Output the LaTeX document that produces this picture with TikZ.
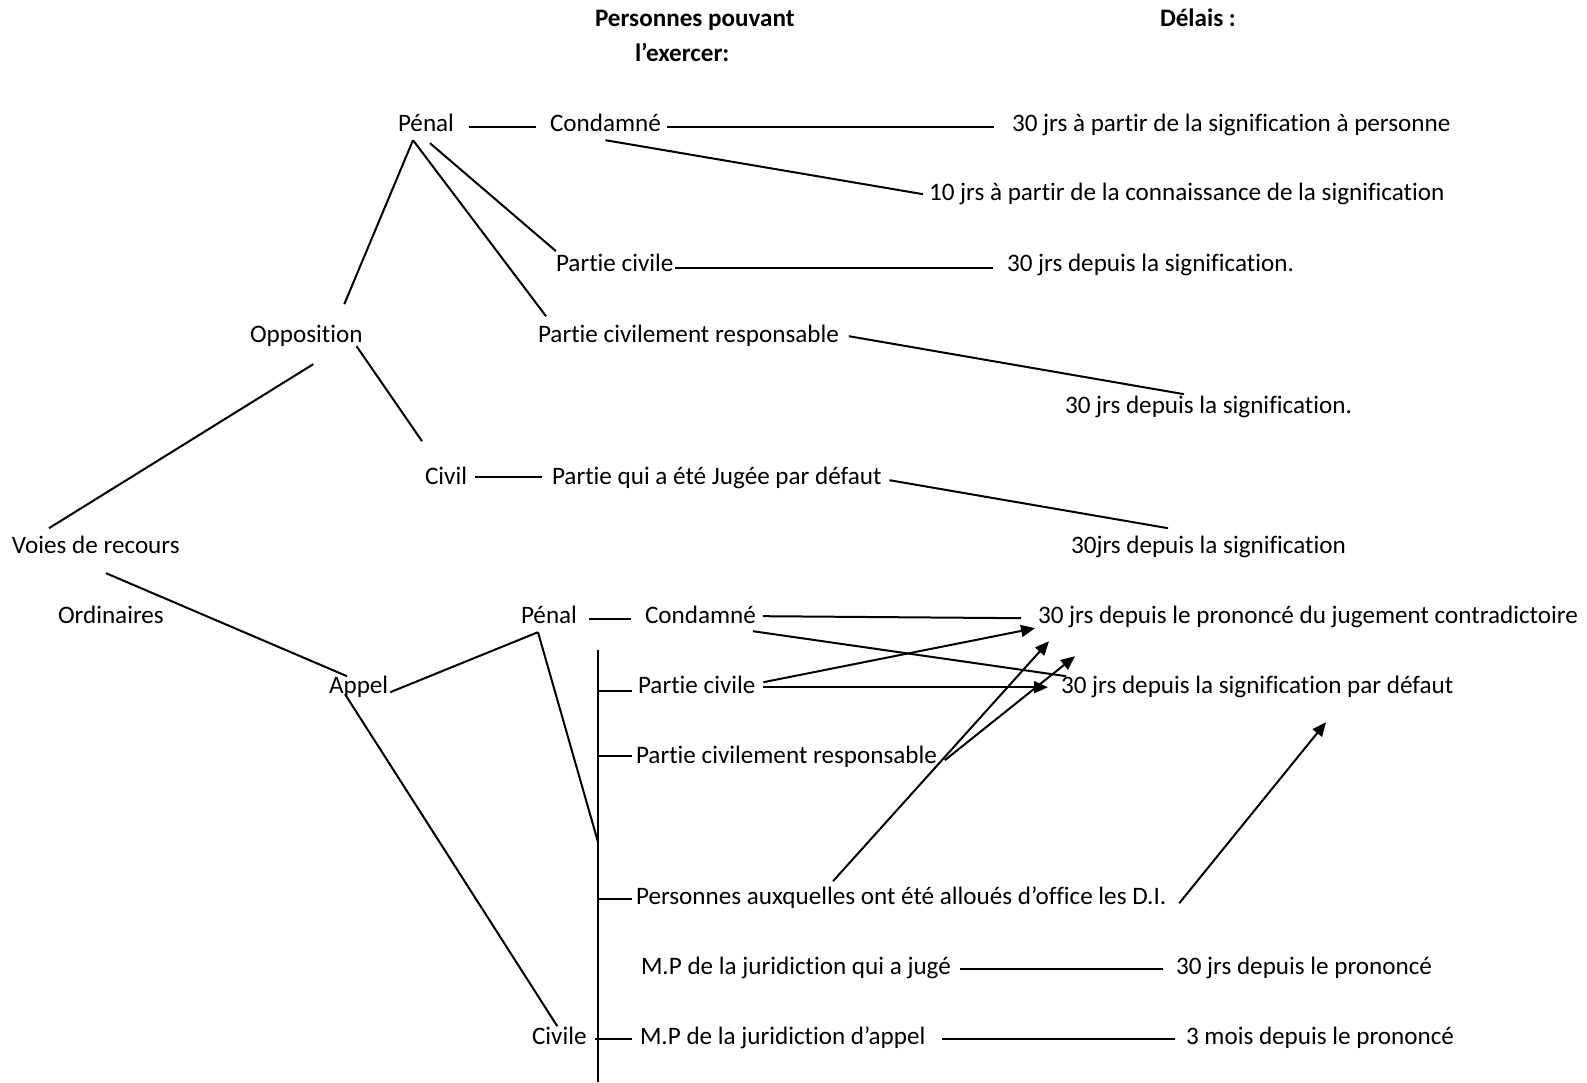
\documentclass[tikz,border=0pt]{standalone}
\usepackage{fontspec}
\setmainfont{Carlito}[Ligatures=NoCommon]
\usetikzlibrary{calc,arrows.meta}
\begin{document}
\begin{tikzpicture}[x=0.75pt,y=-0.75pt,
  every node/.style={inner sep=0pt, outer sep=0pt, anchor=mid west,
    font=\fontsize{18.85}{22}\selectfont},
  head/.style={font=\fontsize{18.85}{22}\selectfont\bfseries},
  link/.style={line width=1.5pt},
  arr/.style={line width=1.5pt, -{Triangle[length=10.5pt, width=9pt]}}]

% page
\fill[white] (0,0) rectangle (1587,1082);
\useasboundingbox (0,0) rectangle (1587,1082);

% column headings
\node[head] (t1) at (595,23) {Personnes pouvant};
\node[head] (t2) at (635,58) {l’exercer:};
\node[head] (t3) at (1160,23) {Délais :};

% opposition
\node (pen1)  at (398,128)  {Pénal};
\node (cond1) at (550,128)  {Condamné};
\node (d1)    at (1012,128) {30 jrs à partir de la signification à personne};
\node (d2)    at (929,197)  {10 jrs à partir de la connaissance de la signification};
\node (pc1)   at (556,268)  {Partie civile};
\node (d3)    at (1007,268) {30 jrs depuis la signification.};
\node (opp)   at (250,339)  {Opposition};
\node (pcr1)  at (538,339)  {Partie civilement responsable};
\node (d4)    at (1065,410) {30 jrs depuis la signification.};
\node (civ)   at (425,481)  {Civil};
\node (pj)    at (552,481)  {Partie qui a été Jugée par défaut};
\node (d5)    at (1071,550) {30jrs depuis la signification};
\node (voies) at (12,550)   {Voies de recours};
\node (ord)   at (58,620)   {Ordinaires};

% appel
\node (pen2)   at (521,620)  {Pénal};
\node (cond2)  at (645,620)  {Condamné};
\node (d6)     at (1038,620) {30 jrs depuis le prononcé du jugement contradictoire};
\node (appel)  at (329,690)  {Appel};
\node (pc2)    at (638,690)  {Partie civile};
\node (d7)     at (1061,690) {30 jrs depuis la signification par défaut};
\node (pcr2)   at (636,760)  {Partie civilement responsable};
\node (pers)   at (636,901)  {Personnes auxquelles ont été alloués d’office les D.I.};
\node (mp1)    at (641,971)  {M.P de la juridiction qui a jugé};
\node (d8)     at (1176,971) {30 jrs depuis le prononcé};
\node (civile) at (532,1041) {Civile};
\node (mp2)    at (640,1041) {M.P de la juridiction d’appel};
\node (d9)     at (1186,1041){3 mois depuis le prononcé};

% opposition connectors
\draw[link] ($(pen1.base east)+(15,-4)$) -- ($(cond1.base west)+(-14,-4)$);
\draw[link] ($(cond1.base east)+(6,-4)$) -- ($(d1.base west)+(-18,-4)$);
\draw[link] ($(cond1.base)+(0,9)$) -- ($(d2.base west)+(-6,-6)$);
\draw[link] ($(pen1.base)+(-13,9)$) -- ($(opp.base)+(38,-38)$);
\draw[link] ($(pen1.base)+(-13,9)$) -- ($(pcr1.base west)+(8,-26)$);
\draw[link] ($(pen1.base)+(4,12)$) -- ($(pc1.base west)+(0,-20)$);
\draw[link] ($(pc1.base east)+(2,-3)$) -- ($(d3.base west)+(-14,-3)$);
\draw[link] ($(pcr1.base east)+(10,-6)$) -- ($(d4.base west)+(119,-19)$);
\draw[link] ($(opp.base east)+(-6,4)$) -- ($(civ.base west)+(-3,-43)$);
\draw[link] ($(opp.base)+(7,22)$) -- ($(voies.base west)+(37,-25)$);
\draw[link] ($(civ.base east)+(8,-7)$) -- ($(pj.base west)+(-10,-7)$);
\draw[link] ($(pj.base east)+(8,-4)$) -- ($(d5.base west)+(97,-25)$);

% appel connectors
\draw[link] ($(voies.base west)+(94,20)$) -- ($(appel.base west)+(18,-17)$);
\draw[link] ($(appel.base east)+(2,-1)$) -- ($(pen2.base)+(-11,9)$);
\draw[link] ($(appel.base west)+(16,1)$) -- ($(civile.base)+(-2,-18)$);
\draw[link] ($(pen2.base east)+(12,-4)$) -- ($(cond2.base west)+(-14,-4)$);
\draw[link] ($(cond2.base east)+(7,-7)$) -- ($(d6.base west)+(-17,-5)$);
\draw[link] ($(cond2.base east)+(-3,8)$) -- ($(d7.base west)+(5,-17)$);
\draw[arr] ($(pc2.base east)+(8,-11)$) -- ($(d6.base west)+(-3,5)$);
\draw[arr] ($(pc2.base east)+(8,-6)$) -- ($(d7.base west)+(-13,-6)$);
\draw[arr] ($(pcr2.base east)+(8,-3)$) -- ($(d7.base west)+(14,-37)$);
\draw[arr] ($(pers.base west)+(197,-23)$) -- ($(d6.base west)+(11,18)$);
\draw[arr] ($(pers.base east)+(13,-1)$) -- ($(d7.base west)+(265,29)$);
\draw[link] ($(mp1.base east)+(9,-5)$) -- ($(d8.base west)+(-13,-5)$);
\draw[link] ($(mp2.base east)+(17,-5)$) -- ($(d9.base west)+(-11,-5)$);

% bracket of the persons entitled to appeal
\coordinate (vtop) at (598,650);
\coordinate (vbot) at (598,1082);
\coordinate (vmid) at (598,842);
\draw[link] ($(pen2.base)+(-11,9)$) -- (vmid);
\draw[line width=1.7pt] (vtop) -- (vbot);
\path ($(pc2.base west)+(-6,-2)$) coordinate (k1);
\path ($(pcr2.base west)+(-4,-7)$) coordinate (k2);
\path ($(pers.base west)+(-4,-5)$) coordinate (k3);
\path ($(mp2.base west)+(-8,-5)$) coordinate (k4);
\draw[link] (k1) -- (k1 -| vtop);
\draw[link] (k2) -- (k2 -| vtop);
\draw[link] (k3) -- (k3 -| vtop);
\draw[link] (k4) -- ($(k4 -| vtop)+(-3,0)$);
\end{tikzpicture}
\end{document}
